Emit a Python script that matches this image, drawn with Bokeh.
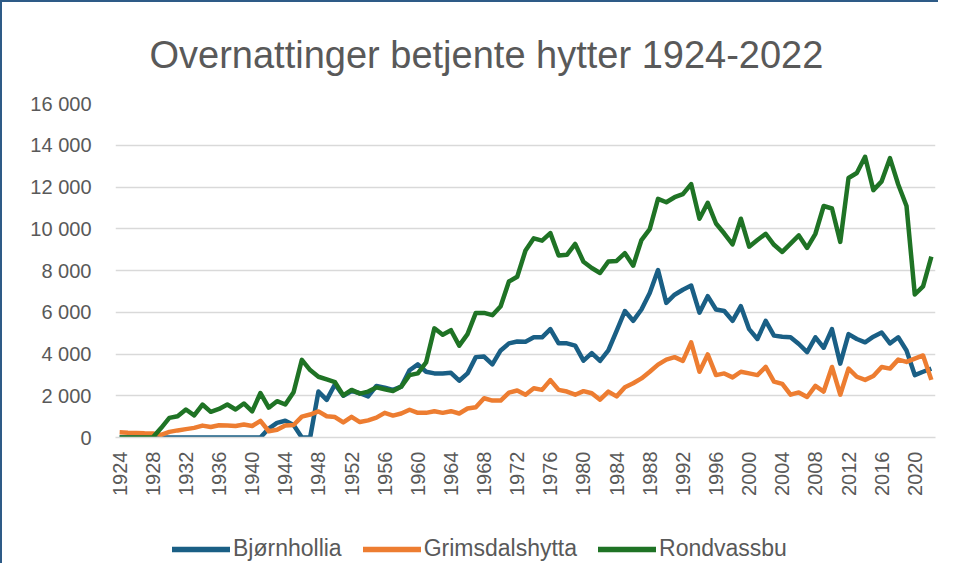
from bokeh.plotting import figure
from bokeh.models import Range1d, Legend, LegendItem
from bokeh.layouts import column
from bokeh.embed import file_html
from bokeh.resources import INLINE
import math

years = list(range(1924, 2023))

bjornhollia = [0] * 18 + [
    430, 700, 800, 600, 0, 0, 2200, 1800, 2550, 2000,          # 1942-1951
    2230, 2120, 1970, 2470, 2390, 2280, 2440, 3220, 3500, 3150,  # 1952-1961
    3070, 3070, 3100, 2720, 3070, 3850, 3880, 3500, 4170, 4510,  # 1962-1971
    4600, 4590, 4800, 4800, 5190, 4510, 4510, 4400, 3680, 4040,  # 1972-1981
    3670, 4170, 5110, 6060, 5590, 6130, 6920, 8020, 6450, 6840,  # 1982-1991
    7080, 7280, 5980, 6770, 6130, 6060, 5590, 6290, 5190, 4720,  # 1992-2001
    5590, 4880, 4830, 4800, 4480, 4090, 4800, 4300, 5190, 3540,  # 2002-2011
    4950, 4720, 4560, 4830, 5030, 4510, 4800, 4170, 2990, 3150,  # 2012-2021
    3300,                                                        # 2022
]

grimsdalshytta = [
    250, 230, 220, 200, 190, 130, 270, 340, 400, 460,            # 1924-1933
    570, 500, 590, 580, 550, 620, 550, 800, 300, 370,            # 1934-1943
    580, 600, 1000, 1100, 1250, 1020, 980, 720, 990, 740,        # 1944-1953
    820, 950, 1180, 1050, 1150, 1330, 1180, 1180, 1260, 1180,    # 1954-1963
    1260, 1150, 1390, 1450, 1880, 1770, 1770, 2150, 2250, 2050,  # 1964-1973
    2360, 2280, 2750, 2280, 2200, 2050, 2220, 2120, 1810, 2200,  # 1974-1983
    1970, 2410, 2600, 2830, 3150, 3490, 3730, 3850, 3670, 4560,  # 1984-1993
    3150, 3980, 2990, 3070, 2880, 3150, 3070, 2990, 3380, 2680,  # 1994-2003
    2570, 2050, 2160, 1940, 2470, 2200, 3380, 2050, 3300, 2910,  # 2004-2013
    2760, 2950, 3380, 3300, 3730, 3620, 3780, 3930, 2760,        # 2014-2022
]

rondvassbu = [
    0, 0, 0, 0, 0, 450, 940, 1020, 1340, 1060,                   # 1924-1933
    1580, 1230, 1370, 1580, 1340, 1630, 1250, 2130, 1430, 1740,  # 1934-1943
    1580, 2170, 3720, 3230, 2910, 2780, 2650, 2020, 2280, 2100,  # 1944-1953
    2200, 2400, 2310, 2230, 2440, 2990, 3070, 3600, 5230, 4920,  # 1954-1963
    5140, 4400, 4950, 5970, 5970, 5860, 6290, 7470, 7700, 8960,  # 1964-1973
    9540, 9430, 9790, 8720, 8750, 9270, 8420, 8120, 7880, 8430,  # 1974-1983
    8460, 8830, 8230, 9460, 9980, 11430, 11270, 11510, 11660, 12140,  # 1984-1993
    10480, 11240, 10250, 9770, 9250, 10480, 9140, 9460, 9760, 9230,   # 1994-2003
    8890, 9290, 9680, 9080, 9760, 11090, 10970, 9370, 12430, 12670,   # 2004-2013
    13450, 11850, 12270, 13380, 12120, 11090, 6850, 7240, 8660,       # 2014-2022
]

series_names = ["Bjørnhollia", "Grimsdalshytta", "Rondvassbu"]
series_colors = ["#1a5f85", "#ed7d31", "#1f7325"]

y_ticks = [0, 2000, 4000, 6000, 8000, 10000, 12000, 14000, 16000]
y_tick_labels = ["0", "2 000", "4 000", "6 000", "8 000", "10 000", "12 000", "14 000", "16 000"]
x_ticks = list(range(1924, 2021, 4))

title_text = "Overnattinger betjente hytter 1924-2022"

FONT = "Liberation Sans"
GREY = "#595959"

# ---- main chart ----
p = figure(width=936, height=496, output_backend="svg", toolbar_location=None,
           x_range=Range1d(1923.5, 2022.5), y_range=Range1d(0, 16000),
           min_border_left=113, min_border_right=3, min_border_top=101,
           min_border_bottom=56)

p.title.text = title_text
p.title.align = "left"
p.title.offset = 34
p.title.standoff = 55
p.title.text_font = FONT
p.title.text_font_size = "38px"
p.title.text_font_style = "normal"
p.title.text_color = GREY

p.outline_line_color = None
p.xgrid.visible = False
p.ygrid.grid_line_color = "#d9d9d9"
p.ygrid.grid_line_width = 1.5

p.yaxis.ticker = y_ticks
p.yaxis.major_label_overrides = dict(zip(y_ticks, y_tick_labels))
p.yaxis.axis_line_color = None
p.yaxis.major_tick_line_color = None
p.yaxis.minor_tick_line_color = None
p.yaxis.major_label_text_font = FONT
p.yaxis.major_label_text_font_size = "20px"
p.yaxis.major_label_text_color = GREY
p.yaxis.major_label_standoff = 18

p.xaxis.ticker = x_ticks
p.xaxis.major_label_orientation = math.pi / 2
p.xaxis.axis_line_color = "#d9d9d9"
p.xaxis.axis_line_width = 1.5
p.xaxis.major_tick_line_color = None
p.xaxis.minor_tick_line_color = None
p.xaxis.major_label_text_font = FONT
p.xaxis.major_label_text_font_size = "20px"
p.xaxis.major_label_text_color = GREY
p.xaxis.major_label_standoff = 8

for vals, color in zip([bjornhollia, grimsdalshytta, rondvassbu], series_colors):
    p.line(years, vals, line_color=color, line_width=4.5, line_join="round")

# ---- legend strip (its sample lines lie outside its visible range) ----
lf = figure(width=936, height=65, output_backend="svg", toolbar_location=None,
            x_axis_type=None, y_axis_type=None, min_border=0,
            x_range=Range1d(0, 1), y_range=Range1d(0, 1))
lf.outline_line_color = None

legend_renderers = [lf.line(x=[-5, -4], y=[-5, -5], line_color=c, line_width=5.5,
                            line_cap="round")
                    for c in series_colors]
legend = Legend(items=[LegendItem(label=n, renderers=[r])
                       for n, r in zip(series_names, legend_renderers)],
                orientation="horizontal", location=(57, 1))
legend.border_line_color = None
legend.background_fill_alpha = 0
legend.label_text_font = FONT
legend.label_text_font_size = "23px"
legend.label_text_color = GREY
legend.glyph_width = 58
legend.glyph_height = 20
legend.label_standoff = 3
legend.spacing = 21
legend.padding = 1
legend.margin = 0
lf.add_layout(legend, "center")

layout = column(p, lf, spacing=0,
                styles={"border-left": "2px solid #2e5b87", "border-top": "2px solid #2e5b87"})

open("out.html", "w").write(file_html(layout, INLINE))
